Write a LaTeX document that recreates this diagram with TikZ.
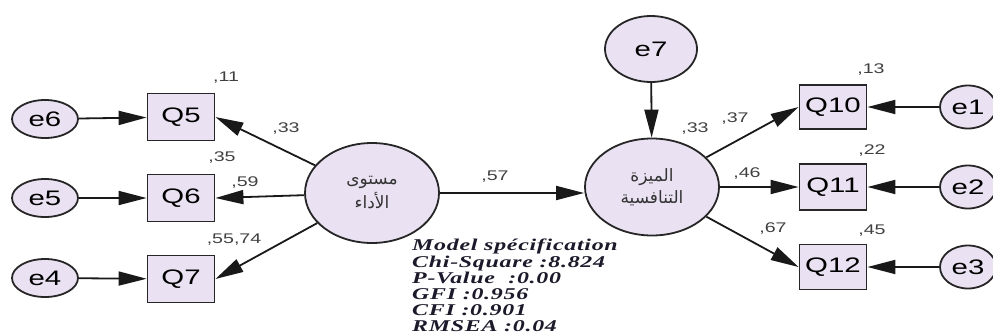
\documentclass[tikz,border=0pt]{standalone}
\usepackage{graphicx}
\usepackage{fontspec}
\setmainfont{Liberation Sans}
\newfontfamily\arabicfont[Script=Arabic]{DejaVu Sans}
\newfontfamily\specfont[LetterSpace=3]{Liberation Serif}
\TeXXeTstate=1
\usetikzlibrary{arrows.meta,shapes.geometric}
\definecolor{nodefill}{HTML}{EAE2F2}
\definecolor{specink}{HTML}{1C1A2A}
\newcommand\sx[1]{\scalebox{1.4}[1]{#1}}
\newcommand\sy[1]{\scalebox{1.45}[1]{#1}}
\begin{document}
\begin{tikzpicture}[x=1pt,y=-1pt,
  obs/.style={draw=black!85, line width=1.8pt, fill=nodefill, minimum width=67pt, minimum height=47pt, inner sep=0pt, font=\fontsize{21}{21}\selectfont},
  err/.style={ellipse, draw=black!85, line width=1.8pt, fill=nodefill, minimum width=66pt, minimum height=38pt, inner sep=0pt, font=\fontsize{21}{21}\selectfont},
  errr/.style={err, minimum width=56pt, minimum height=43pt},
  lat/.style={ellipse, draw=black!85, line width=1.8pt, fill=nodefill, minimum width=134pt, minimum height=100pt, inner sep=0pt, text=black!80, align=center},
  lbl/.style={font=\fontsize{14}{14}\selectfont, text=black!75, inner sep=0pt},
  arr/.style={line width=1.8pt, draw=black!90, -{Triangle[length=28pt,width=14pt]}}
]
\useasboundingbox (0,0) rectangle (993,335);

% left error terms and indicators
\node[err] (e6) at (45,119) {\sx{e6}};
\node[err] (e5) at (45,198) {\sx{e5}};
\node[err] (e4) at (45,278) {\sx{e4}};
\node[obs] (Q5) at (181,117) {\sx{Q5}};
\node[obs] (Q6) at (181,198) {\sx{Q6}};
\node[obs] (Q7) at (181,279) {\sx{Q7}};

% latent variables
\node[lat, font={\arabicfont\fontsize{17}{24}\selectfont}] (L1) at (372,193) {\beginR مستوى\endR\\\beginR الأداء\endR};
\node[lat, minimum height=97pt, font={\arabicfont\fontsize{17}{22}\selectfont}] (L2) at (652,187) {\beginR الميزة\endR\\\beginR التنافسية\endR};
\node[err, minimum width=92pt, minimum height=66pt] (e7) at (651,49) {\sx{e7}};

% right indicators and error terms
\node[obs, minimum height=44pt] (Q10) at (833,107) {\sx{Q10}};
\node[obs, minimum height=46pt] (Q11) at (833,187) {\sx{Q11}};
\node[obs, minimum height=45pt] (Q12) at (833,267) {\sx{Q12}};
\node[errr] (e1) at (968,107) {\sx{e1}};
\node[errr] (e2) at (968,187) {\sx{e2}};
\node[errr] (e3) at (968,267) {\sx{e3}};

% connectors
\draw[arr] (e6) -- (Q5);
\draw[arr] (e5) -- (Q6);
\draw[arr] (e4) -- (Q7);
\draw[arr] (L1) -- (Q5.east);
\draw[arr] (L1) -- (Q6.east);
\draw[arr] (L1) -- (Q7.east);
\draw[arr] (L1.east) -- (L2.west |- L1.east);
\draw[arr] (e7) -- (L2);
\draw[arr] (L2) -- (Q10.west);
\draw[arr] (L2) -- (Q11.west);
\draw[arr] (L2) -- (Q12.west);
\draw[arr] (e1) -- (Q10);
\draw[arr] (e2) -- (Q11);
\draw[arr] (e3) -- (Q12);

% coefficient labels
\node[lbl] (n11) at (226,78) {\sx{,11}};
\node[lbl] (n33a) at (286,129) {\sx{,33}};
\node[lbl] (n35) at (222,158) {\sx{,35}};
\node[lbl] (n59) at (245,183) {\sx{,59}};
\node[lbl] (n5574) at (234,240) {\sx{,55,74}};
\node[lbl] (n57) at (495,177) {\sx{,57}};
\node[lbl] (n13) at (871,70) {\sx{,13}};
\node[lbl] (n33b) at (695,129) {\sx{,33}};
\node[lbl] (n37) at (735,119) {\sx{,37}};
\node[lbl] (n22) at (872,151) {\sx{,22}};
\node[lbl] (n46) at (747,174) {\sx{,46}};
\node[lbl] (n67) at (773,229) {\sx{,67}};
\node[lbl] (n45) at (872,231) {\sx{,45}};

% model fit text
\node[anchor=north west, inner sep=0pt, align=left, text=specink,
      font={\specfont\bfseries\itshape\fontsize{16.5}{16.2}\selectfont}] (spec) at (412,239)
  {\sy{Model spécification}\\
   \sy{Chi-Square :8.824}\\
   \sy{P-Value \ :0.00}\\
   \sy{GFI :0.956}\\
   \sy{CFI :0.901}\\
   \sy{RMSEA :0.04}};
\end{tikzpicture}
\end{document}
